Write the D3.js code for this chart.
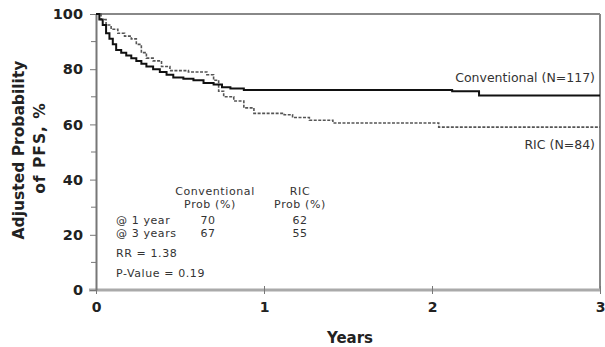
<!DOCTYPE html>
<html>
<head>
<meta charset="utf-8">
<script src="https://cdn.jsdelivr.net/npm/d3@7"></script>
<style>
  body { margin: 0; background: #fff; }
  svg text { font-family: "DejaVu Sans", Verdana, sans-serif; }
</style>
</head>
<body>
<svg width="605" height="347"></svg>
<script>
// step data (years, adjusted probability %)
var convYears = [0, 0.02, 0.04, 0.06, 0.08, 0.10, 0.12, 0.15, 0.18, 0.21, 0.24, 0.27, 0.30, 0.34, 0.38, 0.42, 0.46, 0.52, 0.58, 0.64, 0.70, 0.75, 0.80, 0.88, 2.12, 2.28];
var convProb  = [100, 98, 96, 93, 91, 89, 87, 86, 85, 84, 83, 82, 81, 80, 79, 78, 77, 76.5, 76, 75, 74.5, 73.5, 73, 72.5, 72, 70.5];
var ricYears = [0, 0.03, 0.06, 0.09, 0.13, 0.17, 0.21, 0.24, 0.27, 0.30, 0.34, 0.39, 0.44, 0.55, 0.66, 0.70, 0.73, 0.76, 0.82, 0.88, 0.94, 1.12, 1.17, 1.27, 1.41, 2.04];
var ricProb  = [100, 98, 96, 94.5, 93, 92, 91, 89, 86, 84, 83, 81, 79.5, 79, 78, 76, 72, 70, 68.5, 66, 64, 63.5, 62.5, 61.5, 60.5, 59];
var xTicks = [0, 1, 2, 3];
var yTicks = [0, 20, 40, 60, 80, 100];
var yMinor = [10, 30, 50, 70, 90];
var tableRows = ["@ 1 year", "@ 3 years"];
var convAt = ["70", "67"];
var ricAt = ["62", "55"];

var svg = d3.select("svg"),
    margin = { top: 14, right: 5, bottom: 57, left: 96 },
    width = +svg.attr("width") - margin.left - margin.right,
    height = +svg.attr("height") - margin.top - margin.bottom;

var x = d3.scaleLinear().domain([0, 3]).range([0, width]),
    y = d3.scaleLinear().domain([0, 100]).range([height, 0]);

var g = svg.append("g")
    .attr("transform", "translate(" + margin.left + "," + margin.top + ")");

// frame top + right
g.append("line").attr("x1", 0).attr("x2", width).attr("y1", 0).attr("y2", 0)
  .style("stroke", "#888").style("stroke-width", 2);
g.append("line").attr("x1", width).attr("x2", width).attr("y1", 0).attr("y2", height)
  .style("stroke", "#888").style("stroke-width", 2);

// bottom axis
var xAxis = g.append("g")
  .attr("transform", "translate(0," + height + ")")
  .call(d3.axisBottom(x).tickValues(xTicks).tickSize(4).tickSizeOuter(0).tickFormat(d3.format("d")));
xAxis.select(".domain").attr("d", "M-7,0H" + width).style("stroke", "#aaa").style("stroke-width", 3);
xAxis.selectAll(".tick line").attr("y1", -4).attr("y2", 4).style("stroke", "#777");
xAxis.selectAll("text").attr("dy", "1.05em")
  .style("font-size", "14px").style("font-weight", "bold").style("fill", "#222");

// left axis
var yAxis = g.append("g")
  .call(d3.axisLeft(y).tickValues(yTicks).tickSize(6).tickSizeOuter(0));
yAxis.select(".domain").style("stroke", "#777").style("stroke-width", 2);
yAxis.selectAll(".tick line").style("stroke", "#777");
yAxis.selectAll("text").attr("x", -13)
  .style("font-size", "14.5px").style("font-weight", "bold").style("fill", "#222");
g.append("g").selectAll("line").data(yMinor).enter().append("line")
  .attr("x1", -5).attr("x2", 0)
  .attr("y1", function(d) { return y(d); }).attr("y2", function(d) { return y(d); })
  .style("stroke", "#777");

// curves
var line = d3.line()
  .curve(d3.curveStepAfter)
  .x(function(d) { return x(d[0]); })
  .y(function(d) { return y(d[1]); });

var ricData = ricYears.map(function(t, i) { return [t, ricProb[i]]; });
ricData.push([3, ricProb[ricProb.length - 1]]);
var convData = convYears.map(function(t, i) { return [t, convProb[i]]; });
convData.push([3, convProb[convProb.length - 1]]);

g.append("path").datum(ricData)
  .attr("d", line)
  .style("fill", "none").style("stroke", "#555").style("stroke-width", 1.6)
  .style("stroke-dasharray", "3,1.5");

g.append("path").datum(convData)
  .attr("d", line)
  .style("fill", "none").style("stroke", "#111").style("stroke-width", 2);

// series labels
g.append("text").attr("x", width - 5).attr("y", y(convProb[convProb.length - 1]) - 13)
  .attr("text-anchor", "end").style("font-size", "12.5px").style("fill", "#333")
  .text("Conventional (N=117)");
g.append("text").attr("x", width - 5).attr("y", y(ricProb[ricProb.length - 1]) + 22)
  .attr("text-anchor", "end").style("font-size", "12.5px").style("fill", "#333")
  .text("RIC (N=84)");

// inset table
var tbl = svg.append("g").style("font-size", "11px").style("fill", "#333")
  .style("letter-spacing", "0.6px");
tbl.append("text").attr("x", 215).attr("y", 195).attr("text-anchor", "middle").text("Conventional");
tbl.append("text").attr("x", 210).attr("y", 208).attr("text-anchor", "middle").text("Prob (%)");
tbl.append("text").attr("x", 300).attr("y", 195).attr("text-anchor", "middle").text("RIC");
tbl.append("text").attr("x", 300).attr("y", 208).attr("text-anchor", "middle").text("Prob (%)");
tableRows.forEach(function(r, i) {
  var yy = 224 + i * 13;
  tbl.append("text").attr("x", 116).attr("y", yy).text(r);
  tbl.append("text").attr("x", 208).attr("y", yy).attr("text-anchor", "middle").text(convAt[i]);
  tbl.append("text").attr("x", 300).attr("y", yy).attr("text-anchor", "middle").text(ricAt[i]);
});
tbl.append("text").attr("x", 116).attr("y", 257).text("RR = 1.38");
tbl.append("text").attr("x", 116).attr("y", 277).text("P-Value = 0.19");

// axis titles
svg.append("text")
  .attr("transform", "translate(24,150) rotate(-90)")
  .attr("text-anchor", "middle")
  .style("font-size", "15.5px").style("font-weight", "bold").style("fill", "#222")
  .text("Adjusted Probability");
svg.append("text")
  .attr("transform", "translate(45,148) rotate(-90)")
  .attr("text-anchor", "middle")
  .style("font-size", "15.5px").style("font-weight", "bold").style("fill", "#222")
  .style("letter-spacing", "1px")
  .text("of PFS, %");
svg.append("text")
  .attr("x", 350).attr("y", 343)
  .attr("text-anchor", "middle")
  .style("font-size", "15px").style("font-weight", "bold").style("fill", "#222")
  .text("Years");
</script>
</body>
</html>
